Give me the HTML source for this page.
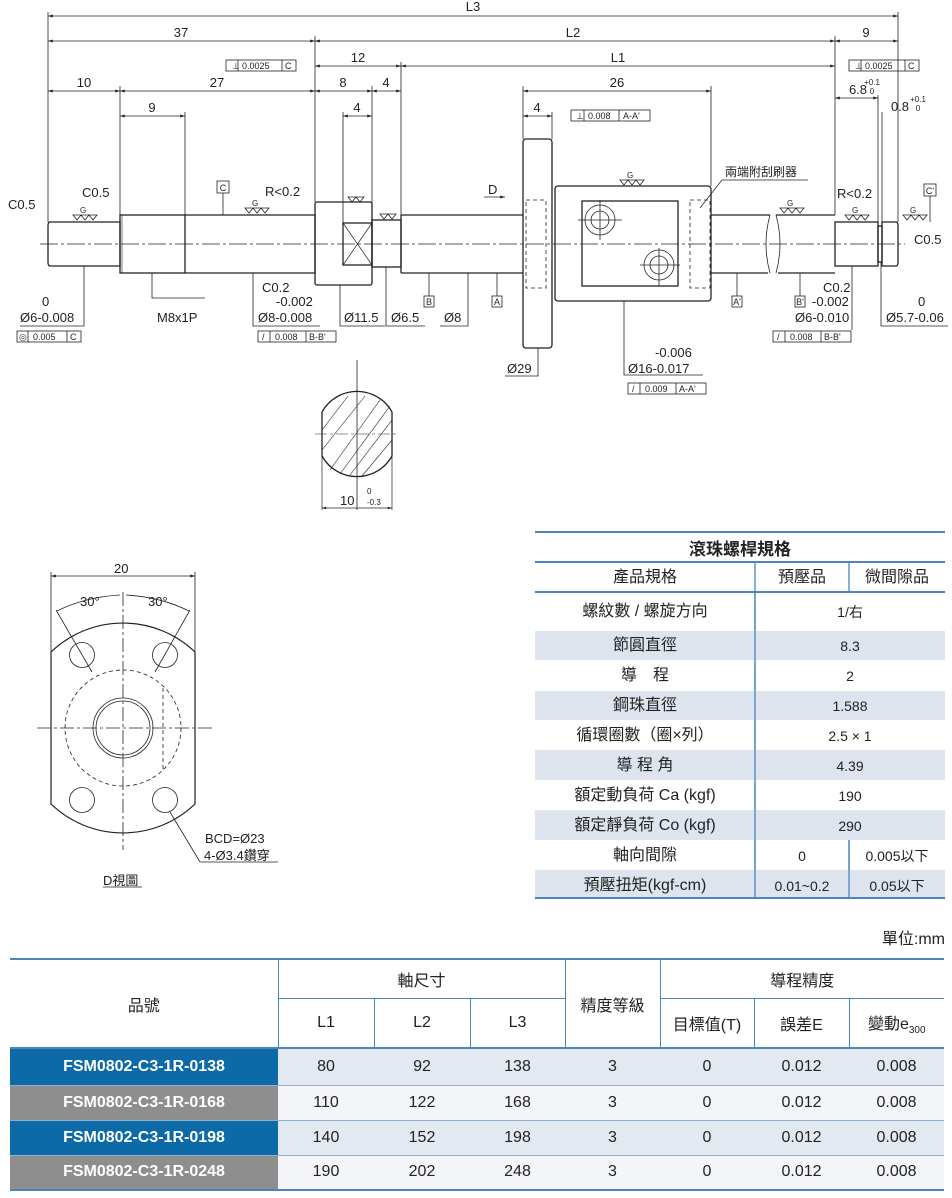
<!DOCTYPE html>
<html><head><meta charset="utf-8"><style>
body{margin:0;width:952px;height:1198px;background:#fff;position:relative;overflow:hidden;font-family:"Liberation Sans","Noto Sans CJK TC",sans-serif;}
svg{position:absolute;left:0;top:0}
.t{position:absolute;border-collapse:collapse;color:#222;}
.t td{text-align:center;padding:0;}
</style></head><body>
<svg width="952" height="1198" viewBox="0 0 952 1198" font-family="Liberation Sans, sans-serif" font-size="13" fill="none" stroke="#222" stroke-width="1">
<defs><marker id="a" viewBox="0 0 10 10" refX="10" refY="5" markerWidth="8" markerHeight="6" orient="auto-start-reverse"><path d="M0,2 L10,5 L0,8z" fill="#222" stroke="none"/></marker></defs>
<line x1="40" y1="244" x2="905" y2="244" stroke-dasharray="18,3,3,3" stroke-width="0.7"/>
<g stroke-width="0.8">
<line x1="48" y1="12" x2="48" y2="222"/><line x1="898" y1="12" x2="898" y2="222"/>
<line x1="315" y1="36" x2="315" y2="202"/><line x1="835" y1="36" x2="835" y2="215"/>
<line x1="401" y1="62" x2="401" y2="215"/><line x1="120" y1="86" x2="120" y2="215"/>
<line x1="185" y1="112" x2="185" y2="215"/><line x1="372" y1="86" x2="372" y2="220"/>
<line x1="343" y1="112" x2="343" y2="223"/><line x1="523" y1="86" x2="523" y2="139"/>
<line x1="552" y1="112" x2="552" y2="139"/><line x1="711" y1="86" x2="711" y2="186"/>
<line x1="878" y1="95" x2="878" y2="222"/><line x1="882" y1="112" x2="882" y2="222"/>
</g>
<g stroke-width="0.8" marker-start="url(#a)" marker-end="url(#a)">
<line x1="48" y1="16" x2="898" y2="16"/>
<line x1="48" y1="41" x2="315" y2="41"/><line x1="315" y1="41" x2="835" y2="41"/><line x1="835" y1="41" x2="898" y2="41"/>
<line x1="315" y1="66" x2="401" y2="66"/><line x1="401" y1="66" x2="835" y2="66"/>
<line x1="48" y1="91" x2="120" y2="91"/><line x1="120" y1="91" x2="315" y2="91"/><line x1="315" y1="91" x2="372" y2="91"/><line x1="372" y1="91" x2="401" y2="91"/>
<line x1="523" y1="91" x2="711" y2="91"/>
<line x1="120" y1="116" x2="185" y2="116"/><line x1="343" y1="116" x2="372" y2="116"/><line x1="523" y1="116" x2="552" y2="116"/>
<line x1="835" y1="98" x2="878" y2="98"/>
</g>
<g fill="#222" stroke="none" text-anchor="middle">
<text x="473" y="11">L3</text><text x="181" y="37">37</text><text x="573" y="37">L2</text><text x="866" y="37">9</text>
<text x="358" y="62">12</text><text x="618" y="62">L1</text>
<text x="84" y="87">10</text><text x="217" y="87">27</text><text x="343" y="87">8</text><text x="386" y="87">4</text><text x="617" y="87">26</text>
<text x="152" y="112">9</text><text x="357" y="112">4</text><text x="537" y="112">4</text>
<text x="858" y="94">6.8</text><text x="872" y="85" font-size="8">+0.1</text><text x="872" y="94" font-size="8">0</text>
<text x="900" y="111">0.8</text><text x="918" y="102" font-size="8">+0.1</text><text x="918" y="111" font-size="8">0</text>
</g>
<g stroke-width="0.8" font-size="9">
<rect x="226" y="60" width="70" height="11"/><line x1="238" y1="60" x2="238" y2="71"/><line x1="282" y1="60" x2="282" y2="71"/>
<rect x="849" y="60" width="70" height="11"/><line x1="861" y1="60" x2="861" y2="71"/><line x1="905" y1="60" x2="905" y2="71"/>
<rect x="571" y="110" width="79" height="11"/><line x1="584" y1="110" x2="584" y2="121"/><line x1="619" y1="110" x2="619" y2="121"/>
<rect x="17" y="331" width="64" height="11"/><line x1="28" y1="331" x2="28" y2="342"/><line x1="67" y1="331" x2="67" y2="342"/>
<rect x="258" y="331" width="78" height="11"/><line x1="270" y1="331" x2="270" y2="342"/><line x1="306" y1="331" x2="306" y2="342"/>
<rect x="773" y="331" width="78" height="11"/><line x1="785" y1="331" x2="785" y2="342"/><line x1="821" y1="331" x2="821" y2="342"/>
<rect x="628" y="383" width="78" height="11"/><line x1="640" y1="383" x2="640" y2="394"/><line x1="676" y1="383" x2="676" y2="394"/>
<g fill="#222" stroke="none"><text x="242" y="69">0.0025</text><text x="285" y="69">C</text><text x="232" y="69">⊥</text>
<text x="865" y="69">0.0025</text><text x="908" y="69">C</text><text x="855" y="69">⊥</text>
<text x="588" y="119">0.008</text><text x="623" y="119">A-A'</text><text x="576" y="119">⊥</text>
<text x="33" y="340">0.005</text><text x="70" y="340">C</text><text x="19" y="340">◎</text>
<text x="275" y="340">0.008</text><text x="309" y="340">B-B'</text><text x="262" y="340">/</text>
<text x="790" y="340">0.008</text><text x="824" y="340">B-B'</text><text x="777" y="340">/</text>
<text x="645" y="392">0.009</text><text x="679" y="392">A-A'</text><text x="632" y="392">/</text></g>
</g>
<g stroke-width="1.3">
<path d="M50,222 H120 V266 H50 Q48,266 48,262 V226 Q48,222 50,222z"/>
<rect x="120" y="215" width="65" height="58"/>
<line x1="122" y1="215" x2="122" y2="273" stroke-width="0.6"/>
<path d="M185,215 H315 V273 H185"/>
<rect x="315" y="202" width="57" height="83" rx="2"/>
<rect x="343" y="223" width="29" height="42"/><path d="M343,223 L372,265 M372,223 L343,265" stroke-width="0.7"/>
<rect x="372" y="220" width="29" height="47"/>
<path d="M401,215 H523 M401,273 H523 M401,215 V273"/>
<rect x="523" y="139" width="29" height="209" rx="3"/>
<rect x="555" y="186" width="156" height="115" rx="3"/>
<rect x="582" y="201" width="96" height="85"/>
<path d="M711,215 H770 M711,273 H768 M776,215 H835 M778,273 H835"/>
<path d="M770,215 Q762,244 770,273 M776,215 Q784,244 776,273" stroke-width="0.8"/>
<rect x="835" y="222" width="43" height="44"/>
<rect x="878" y="226" width="4" height="36"/>
<path d="M882,222 H896 Q898,222 898,226 V262 Q898,266 896,266 H882z"/>
</g>
<g stroke-width="0.8" stroke-dasharray="4,3">
<rect x="526" y="200" width="20" height="88"/><rect x="690" y="200" width="20" height="88"/>
</g>
<g stroke-width="0.8">
<circle cx="600" cy="220" r="15"/><circle cx="600" cy="220" r="9"/><line x1="578" y1="220" x2="622" y2="220"/><line x1="600" y1="200" x2="600" y2="240"/>
<circle cx="659" cy="265" r="15"/><circle cx="659" cy="265" r="9"/><line x1="640" y1="265" x2="680" y2="265"/><line x1="659" y1="248" x2="659" y2="286"/>
<line x1="484" y1="197" x2="505" y2="197" marker-end="url(#a)"/>
</g>
<g stroke-width="0.8">
<polyline points="84,266 84,326 20,326"/><polyline points="152,273 152,283 152,298 205,298"/><polyline points="253,273 253,326 320,326"/>
<polyline points="340,285 340,326 385,326"/><polyline points="386,267 386,326 425,326"/><polyline points="468,273 468,326 440,326"/>
<polyline points="538,348 538,376 505,376"/><polyline points="624,301 624,375 703,375"/>
<polyline points="881,262 881,326 948,326"/><line x1="852" y1="266" x2="852" y2="330"/>
<line x1="429" y1="273" x2="429" y2="296"/><line x1="497" y1="273" x2="497" y2="296"/><line x1="737" y1="273" x2="737" y2="296"/><line x1="800" y1="273" x2="800" y2="296"/>
<line x1="223" y1="193" x2="223" y2="215"/><line x1="930" y1="196" x2="930" y2="222"/>
<line x1="357" y1="360" x2="357" y2="510"/>
</g>
<g stroke-width="0.8" font-size="9" fill="none">
<rect x="424" y="296" width="10" height="11"/><rect x="492" y="296" width="10" height="11"/><rect x="732" y="296" width="10" height="11"/><rect x="795" y="296" width="10" height="11"/>
<rect x="217" y="181" width="12" height="12"/><rect x="924" y="184" width="12" height="12"/>
<g fill="#222" stroke="none" text-anchor="middle"><text x="429" y="305">B</text><text x="497" y="305">A</text><text x="737" y="305">A'</text><text x="800" y="305">B'</text><text x="223" y="191">C</text><text x="930" y="194">C'</text></g>
</g>
<g fill="#222" stroke="none" font-size="13">
<text x="8" y="209">C0.5</text><text x="82" y="197">C0.5</text><text x="265" y="196">R&lt;0.2</text><text x="837" y="198">R&lt;0.2</text>
<text x="262" y="292">C0.2</text><text x="276" y="306">-0.002</text><text x="258" y="322">Ø8-0.008</text>
<text x="42" y="306">0</text><text x="20" y="322">Ø6-0.008</text><text x="157" y="322">M8x1P</text>
<text x="344" y="322">Ø11.5</text><text x="391" y="322">Ø6.5</text><text x="444" y="322">Ø8</text>
<text x="507" y="373">Ø29</text><text x="655" y="357">-0.006</text><text x="628" y="373">Ø16-0.017</text>
<text x="823" y="292">C0.2</text><text x="812" y="306">-0.002</text><text x="795" y="322">Ø6-0.010</text>
<text x="918" y="306">0</text><text x="886" y="322">Ø5.7-0.06</text><text x="914" y="244">C0.5</text>
<text x="488" y="194">D</text><text x="725" y="176" font-family="Noto Sans CJK TC,sans-serif" font-size="12">兩端附刮刷器</text>
<text x="340" y="505">10</text><text x="367" y="494" font-size="8">0</text><text x="367" y="505" font-size="8">-0.3</text>
</g>
<line x1="722" y1="180" x2="808" y2="180" stroke-width="0.7"/><line x1="722" y1="180" x2="700" y2="208" stroke-width="0.7"/>
<g stroke-width="0.8" font-size="8">
<path d="M73,215 l4,5 4,-5 4,5 4,-5 4,5 4,-5z"/><path d="M245,208 l4,5 4,-5 4,5 4,-5 4,5 4,-5z"/><path d="M620,180 l4,5 4,-5 4,5 4,-5 4,5 4,-5z"/>
<path d="M780,208 l4,5 4,-5 4,5 4,-5 4,5 4,-5z"/><path d="M845,215 l4,5 4,-5 4,5 4,-5 4,5 4,-5z"/><path d="M903,215 l4,5 4,-5 4,5 4,-5 4,5 4,-5z"/>
<path d="M348,197 l4,5 4,-5 4,5 4,-5z"/><path d="M380,214 l4,5 4,-5 4,5 4,-5z"/>
<g fill="#222" stroke="none"><text x="80" y="213">G</text><text x="252" y="206">G</text><text x="627" y="178">G</text><text x="787" y="206">G</text><text x="852" y="213">G</text><text x="910" y="213">G</text></g>
</g>
<path d="M322,412 A40,40 0 0 1 392,412 V456 A40,40 0 0 1 322,456z" stroke-width="1.3"/>
<g stroke-width="0.6"><line x1="330" y1="470" x2="380" y2="400"/><line x1="340" y1="474" x2="390" y2="406"/><line x1="322" y1="450" x2="365" y2="396"/><line x1="350" y1="475" x2="392" y2="420"/><line x1="322" y1="430" x2="348" y2="396"/><line x1="362" y1="476" x2="392" y2="440"/><line x1="315" y1="434" x2="399" y2="434" stroke-dasharray="12,3,3,3"/></g>
<line x1="322" y1="456" x2="322" y2="510" stroke-width="0.7"/><line x1="392" y1="456" x2="392" y2="510" stroke-width="0.7"/>
<line x1="322" y1="508" x2="392" y2="508" stroke-width="0.7" marker-start="url(#a)" marker-end="url(#a)"/>
<path d="M51,652 A104,104 0 0 1 195,652 V804 A104,104 0 0 1 51,804z" stroke-width="1.2"/>
<g stroke-width="0.8"><circle cx="82" cy="655" r="12.5"/><circle cx="165" cy="655" r="12.5"/><circle cx="82" cy="800" r="12.5"/><circle cx="165" cy="800" r="12.5"/>
<circle cx="123" cy="728" r="30"/><circle cx="123" cy="728" r="27"/>
<circle cx="123" cy="728" r="58" stroke-dasharray="4,3"/><line x1="163" y1="688" x2="163" y2="770" stroke-dasharray="4,3"/>
<line x1="37" y1="728" x2="212" y2="728" stroke-dasharray="14,3,3,3"/><line x1="123" y1="592" x2="123" y2="850" stroke-dasharray="14,3,3,3"/>
<line x1="51" y1="572" x2="51" y2="652"/><line x1="195" y1="572" x2="195" y2="652"/>
<line x1="51" y1="576" x2="195" y2="576" marker-start="url(#a)" marker-end="url(#a)"/>
<line x1="56" y1="610" x2="92" y2="672"/><line x1="190" y1="610" x2="155" y2="672"/>
<path d="M57,611 Q85,597 120,595" /><path d="M189,611 Q161,597 126,595"/>
<line x1="170" y1="812" x2="200" y2="862"/><line x1="200" y1="862" x2="278" y2="862"/>
<line x1="103" y1="887" x2="142" y2="887"/>
</g>
<g fill="#222" stroke="none" font-size="13"><text x="114" y="573">20</text><text x="80" y="606">30°</text><text x="148" y="606">30°</text>
<text x="205" y="843">BCD=Ø23</text><text x="204" y="860" font-family="Liberation Sans,Noto Sans CJK TC,sans-serif">4-Ø3.4鑽穿</text>
<text x="103" y="885" font-family="Liberation Sans,Noto Sans CJK TC,sans-serif">D視圖</text></g>
<g stroke="#4a86bd" stroke-width="2"><line x1="535" y1="532" x2="945" y2="532"/><line x1="535" y1="562" x2="945" y2="562"/><line x1="535" y1="592" x2="945" y2="592"/><line x1="535" y1="898" x2="945" y2="898"/></g>
<g stroke="#4a86bd" stroke-width="1.3"><line x1="755" y1="562" x2="755" y2="898"/><line x1="849" y1="562" x2="849" y2="592"/><line x1="849" y1="840" x2="849" y2="898"/></g>
</svg>
<div style="position:absolute;left:535px;top:631px;width:410px;height:29px;background:#dde4ee"></div>
<div style="position:absolute;left:535px;top:691px;width:410px;height:29px;background:#dde4ee"></div>
<div style="position:absolute;left:535px;top:750px;width:410px;height:30px;background:#dde4ee"></div>
<div style="position:absolute;left:535px;top:810px;width:410px;height:30px;background:#dde4ee"></div>
<div style="position:absolute;left:535px;top:870px;width:410px;height:27px;background:#dde4ee"></div>
<svg width="952" height="1198" style="pointer-events:none"><g stroke="#4a86bd" stroke-width="1.3"><line x1="755" y1="592" x2="755" y2="897"/><line x1="849" y1="840" x2="849" y2="897"/></g></svg>
<div style="position:absolute;left:535px;top:533px;width:410px;height:29px;text-align:center;font:bold 17px 'Noto Sans CJK TC',sans-serif;line-height:29px;color:#222">滾珠螺桿規格</div>
<div style="position:absolute;left:0;top:0;font:16px 'Liberation Sans','Noto Sans CJK TC',sans-serif;color:#222">
<div style="position:absolute;left:535px;top:563px;width:220px;text-align:center;line-height:29px">產品規格</div>
<div style="position:absolute;left:755px;top:563px;width:94px;text-align:center;line-height:29px">預壓品</div>
<div style="position:absolute;left:849px;top:563px;width:96px;text-align:center;line-height:29px">微間隙品</div>
<div style="position:absolute;left:535px;top:595px;width:220px;line-height:34px;text-align:center">螺紋數 / 螺旋方向<br></div>
<div style="position:absolute;left:755px;top:595px;width:190px;line-height:34px;text-align:center;font-size:14px">1/右</div>
<div style="position:absolute;left:535px;top:631px;width:220px;line-height:30px;text-align:center">節圓直徑<br>導　程<br>鋼珠直徑<br>循環圈數（圈×列）<br>導 程 角<br>額定動負荷 Ca (kgf)<br>額定靜負荷 Co (kgf)<br>軸向間隙<br>預壓扭矩(kgf-cm)</div>
<div style="position:absolute;left:755px;top:631px;width:190px;line-height:30px;text-align:center;font-size:14px">8.3<br>2<br>1.588<br>2.5 × 1<br>4.39<br>190<br>290</div>
<div style="position:absolute;left:755px;top:841px;width:94px;line-height:30px;text-align:center;font-size:14px">0<br>0.01~0.2</div>
<div style="position:absolute;left:849px;top:841px;width:96px;line-height:30px;text-align:center;font-size:14px">0.005以下<br>0.05以下</div>
<div style="position:absolute;left:860px;top:925px;width:85px;text-align:right">單位:mm</div>
</div>
<table class="t" style="left:10px;top:958px;width:934px;font-size:16px;border-top:2px solid #4a86bd;border-bottom:2px solid #4a86bd">
<colgroup><col style="width:268px"><col style="width:96px"><col style="width:96px"><col style="width:95px"><col style="width:95px"><col style="width:94px"><col style="width:95px"><col></colgroup>
<tr style="height:39px"><td rowspan="2" style="border-bottom:2px solid #4a86bd">品號</td><td colspan="3" style="border-left:1px solid #4a86bd;border-bottom:1px solid #4a86bd">軸尺寸</td><td rowspan="2" style="border-left:1px solid #4a86bd;border-bottom:2px solid #4a86bd">精度等級</td><td colspan="3" style="border-left:1px solid #4a86bd;border-bottom:1px solid #4a86bd">導程精度</td></tr>
<tr style="height:50px;border-bottom:2px solid #4a86bd"><td style="border-left:1px solid #4a86bd">L1</td><td style="border-left:1px solid #4a86bd">L2</td><td style="border-left:1px solid #4a86bd">L3</td><td style="border-left:1px solid #4a86bd">目標值(T)</td><td style="border-left:1px solid #4a86bd">誤差E</td><td style="border-left:1px solid #4a86bd">變動e<sub style="font-size:10px">300</sub></td></tr>
<tr style="height:37px;background:#e3e9f1;border-bottom:1px solid #8fb1d3"><td style="background:#0c6aa6;color:#fff;font-weight:bold">FSM0802-C3-1R-0138</td><td>80</td><td>92</td><td>138</td><td>3</td><td>0</td><td>0.012</td><td>0.008</td></tr>
<tr style="height:35px;background:#f3f5f8;border-bottom:1px solid #8fb1d3"><td style="background:#8e8e8e;color:#fff;font-weight:bold">FSM0802-C3-1R-0168</td><td>110</td><td>122</td><td>168</td><td>3</td><td>0</td><td>0.012</td><td>0.008</td></tr>
<tr style="height:35px;background:#e3e9f1;border-bottom:1px solid #8fb1d3"><td style="background:#0c6aa6;color:#fff;font-weight:bold">FSM0802-C3-1R-0198</td><td>140</td><td>152</td><td>198</td><td>3</td><td>0</td><td>0.012</td><td>0.008</td></tr>
<tr style="height:35px;background:#f3f5f8"><td style="background:#8e8e8e;color:#fff;font-weight:bold">FSM0802-C3-1R-0248</td><td>190</td><td>202</td><td>248</td><td>3</td><td>0</td><td>0.012</td><td>0.008</td></tr>
</table>
</body></html>
